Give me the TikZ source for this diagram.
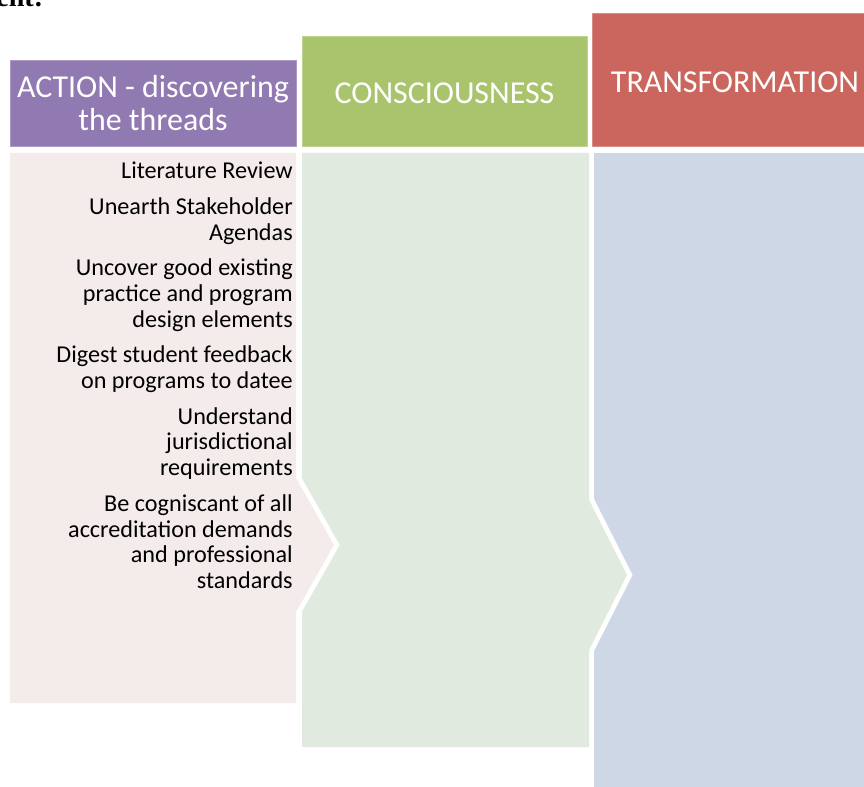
\documentclass[tikz,border=0pt]{standalone}
\usepackage{fontspec}
\setmainfont{Carlito}
\newfontfamily\fragfont{Liberation Serif}
\usetikzlibrary{positioning}

\definecolor{actionhead}{HTML}{9179B1}
\definecolor{conshead}{HTML}{AAC46D}
\definecolor{transhead}{HTML}{CB665E}
\definecolor{actionbody}{HTML}{F4ECEB}
\definecolor{consbody}{HTML}{E0EADE}
\definecolor{transbody}{HTML}{CDD7E6}

\begin{document}
\begin{tikzpicture}
      [   x=0.025cm, y=-0.025cm,
          head/.style={fill=#1,draw=#1!75!white,line width=0.6pt,text=white,align=center,
                       font=\fontsize{22.7}{23}\selectfont},
          body/.style={fill=#1,preaction={draw=white,line width=7pt,line join=miter}},
      ]
          \useasboundingbox (0,0) rectangle (864,787);
          \clip (0,0) rectangle (864,787);
          \node[anchor=base west,inner sep=0pt,font=\fragfont\bfseries\fontsize{20}{20}\selectfont] (frag) at (-4,7) {ent:};
          % column bodies, last one first
          \fill[body=transbody] (594,153) -- (880,153) -- (880,800) -- (594,800) -- cycle;
          \fill[body=consbody] (302,153) -- (589,153) -- (589,500) -- (627,575) -- (589,650)
              -- (589,747) -- (302,747) -- cycle;
          \fill[body=actionbody] (10,153) -- (296,153) -- (296,478) -- (334,545) -- (296,612)
              -- (296,703) -- (10,703) -- cycle;
          % headers
          \node[head=actionhead,minimum width=7.15cm,minimum height=2.15cm] (action) at (153,103)
              {ACTION - discovering\\the threads};
          \node[head=conshead,minimum width=7.125cm,minimum height=2.75cm,text height=17.5pt,text depth=0pt] (cons) at (444.5,91)
              {CONSCIOUSNESS};
          \node[head=transhead,minimum width=7.15cm,minimum height=3.325cm,text height=18.5pt,text depth=0pt] (trans) at (735,79.5)
              {TRANSFORMATION};
          \node[anchor=north east,inner sep=0pt,align=right,font=\fontsize{17.2}{18.35}\selectfont] (threads) at (293,162)
              {Literature Review\\[6.9pt]
               Unearth Stakeholder\\Agendas\\[6.9pt]
               Uncover good existing\\practice and program\\design elements\\[6.9pt]
               Digest student feedback\\on programs to datee\\[6.9pt]
               Understand\\jurisdictional\\requirements\\[6.9pt]
               Be cogniscant of all\\accreditation demands\\and professional\\standards};
    \end{tikzpicture}
\end{document}
